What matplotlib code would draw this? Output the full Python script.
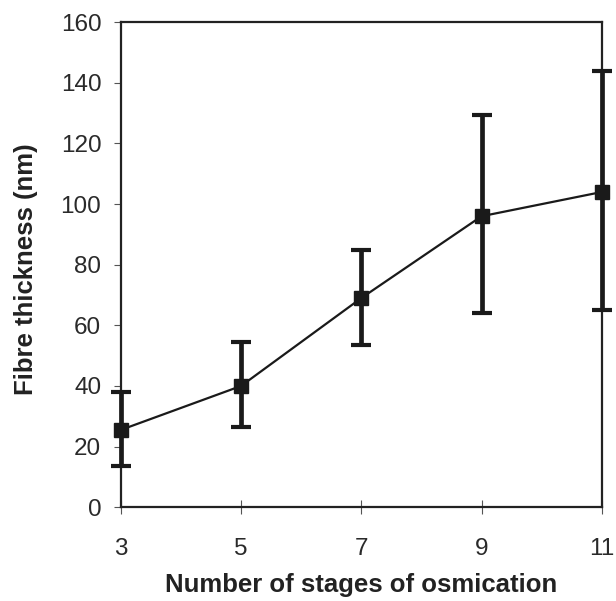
import matplotlib.pyplot as plt

plt.rcParams['font.family'] = ['Liberation Sans', 'DejaVu Sans']

# --- data ---
stages = [3, 5, 7, 9, 11]
thickness = [25.5, 40, 69, 96, 104]
lower = [13.5, 26.5, 53.5, 64, 65]
upper = [38, 54.5, 85, 129.5, 144]

err_lo = [t - l for t, l in zip(thickness, lower)]
err_hi = [u - t for t, u in zip(thickness, upper)]

fig = plt.figure(figsize=(6.16, 6.01), dpi=100)
ax = fig.add_axes([0.196, 0.156, 0.781, 0.807])

ax.errorbar(stages, thickness, yerr=[err_lo, err_hi], color="#1a1a1a",
            linewidth=1.6, marker="s", markersize=10, elinewidth=3.4,
            capsize=7, capthick=3, clip_on=False, zorder=3)

ax.set_xlim(3, 11)
ax.set_ylim(0, 160)
ax.set_xticks(stages)
ax.set_yticks(range(0, 161, 20))

for s in ax.spines.values():
    s.set_linewidth(1.6)
    s.set_color("#222222")

ax.tick_params(axis="both", labelsize=17.5, width=0.8, color="#555555",
               labelcolor="#2a2a2a")
ax.tick_params(axis="x", direction="inout", length=10, pad=17)
ax.tick_params(axis="y", direction="out", length=5, pad=9)

ax.set_xlabel("Number of stages of osmication", fontsize=18.5, fontweight="bold",
              color="#222222")
ax.set_ylabel("Fibre thickness (nm)", fontsize=18.5, fontweight="bold",
              color="#222222")
ax.xaxis.set_label_coords(0.5, -0.136)
ax.yaxis.set_label_coords(-0.171, 0.49)

fig.savefig("out.png", dpi=100)
